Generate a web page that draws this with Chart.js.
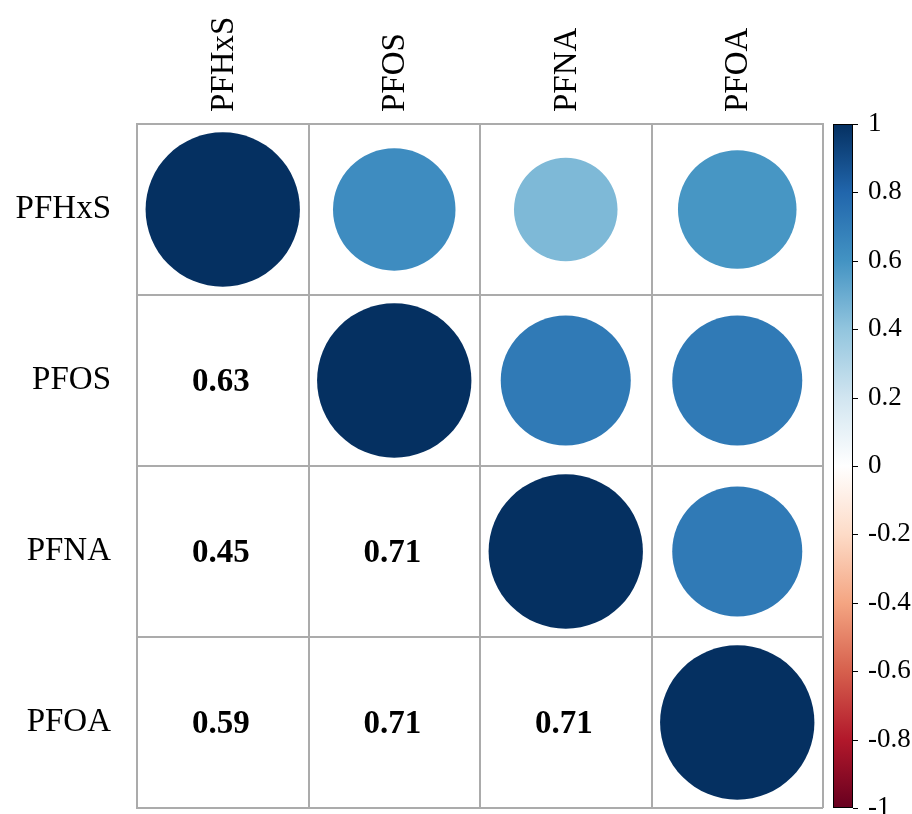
<!DOCTYPE html>
<html>
<head>
<meta charset="utf-8">
<script src="https://cdn.jsdelivr.net/npm/chart.js@4/dist/chart.umd.min.js"></script>
<style>
  html, body { margin: 0; padding: 0; background: #ffffff; }
  #wrap { width: 912px; height: 814px; }
</style>
</head>
<body>
<div id="wrap"><canvas id="c" width="912" height="814"></canvas></div>
<script>
// Compounds, in matrix order (top-to-bottom, left-to-right)
const variables = ['PFHxS', 'PFOS', 'PFNA', 'PFOA'];

// Pearson correlation coefficients, one row per compound
const rPFHxS = [1.00, 0.63, 0.45, 0.59];
const rPFOS  = [0.63, 1.00, 0.71, 0.71];
const rPFNA  = [0.45, 0.71, 1.00, 0.71];
const rPFOA  = [0.59, 0.71, 0.71, 1.00];
const corrRows = [rPFHxS, rPFOS, rPFNA, rPFOA];

// Colour-key tick values
const legendTicks = [1, 0.8, 0.6, 0.4, 0.2, 0, -0.2, -0.4, -0.6, -0.8, -1];

// Diverging red-blue palette from -1 to +1
const rdbu = ['#67001F', '#B2182B', '#D6604D', '#F4A582', '#FDDBC7', '#FFFFFF',
              '#D1E5F0', '#92C5DE', '#4393C3', '#2166AC', '#053061'];

const SERIF = "'Liberation Serif', 'Times New Roman', Times, serif";
const GRID = '#ababab';

function hexToRgb(h) {
  return [parseInt(h.slice(1, 3), 16), parseInt(h.slice(3, 5), 16), parseInt(h.slice(5, 7), 16)];
}
function corrColour(v) {
  const pos = (v + 1) / 2 * (rdbu.length - 1);
  const i = Math.min(Math.floor(pos), rdbu.length - 2);
  const t = pos - i;
  const a = hexToRgb(rdbu[i]), b = hexToRgb(rdbu[i + 1]);
  const c = a.map((ch, k) => Math.round(ch + (b[k] - ch) * t));
  return `rgb(${c[0]},${c[1]},${c[2]})`;
}

// Upper triangle (incl. diagonal): circles; lower triangle: printed coefficients
const circlePoints = [];
const numberPoints = [];
corrRows.forEach((row, i) => {
  row.forEach((v, j) => {
    const p = { x: variables[j], y: variables[i], v: v };
    if (j >= i) circlePoints.push(p); else numberPoints.push(p);
  });
});

// circle area proportional to |r|; diameter of r = 1 is 90% of a cell
function radiusFor(chart, v) {
  const xs = chart.scales.x;
  const w = xs && xs.width ? xs.width : 0;
  return 0.45 * Math.sqrt(Math.abs(v)) * (w / variables.length);
}
function circleRadius(ctx) {
  return ctx.raw ? radiusFor(ctx.chart, ctx.raw.v) : 0;
}

// drop the half-label overflow that scales normally reserve at their ends
function noEndPadding(s) {
  s.paddingTop = 0; s.paddingBottom = 0; s.paddingLeft = 0; s.paddingRight = 0;
}

const cellAndKey = {
  id: 'cellAndKey',
  afterDatasetsDraw(chart) {
    const ctx = chart.ctx;

    // circles whose size was resolved before the cells had a width
    const cm = chart.getDatasetMeta(0);
    ctx.save();
    cm.data.forEach((el, k) => {
      if (el.options && el.options.radius >= 0.1) return;
      const d = chart.data.datasets[0].data[k];
      ctx.beginPath();
      ctx.fillStyle = corrColour(d.v);
      ctx.arc(el.x, el.y, radiusFor(chart, d.v), 0, Math.PI * 2);
      ctx.fill();
    });
    ctx.restore();

    // coefficient text in lower triangle
    const meta = chart.getDatasetMeta(1);
    ctx.save();
    ctx.fillStyle = '#000';
    ctx.font = `bold 33px ${SERIF}`;
    ctx.textAlign = 'center';
    ctx.textBaseline = 'middle';
    meta.data.forEach((el, k) => {
      const d = chart.data.datasets[1].data[k];
      ctx.fillText(d.v.toFixed(2), el.x - 2, el.y + 2);
    });
    ctx.restore();

    // colour key
    const cb = chart.scales.cb;
    const yTop = cb.getPixelForValue(1);
    const yBot = cb.getPixelForValue(-1);
    const x0 = cb.left + 10;
    const w = 20;
    const grad = ctx.createLinearGradient(0, yBot, 0, yTop);
    rdbu.forEach((c, k) => grad.addColorStop(k / (rdbu.length - 1), c));
    ctx.save();
    ctx.fillStyle = grad;
    ctx.fillRect(x0, yTop, w, yBot - yTop);
    ctx.strokeStyle = '#000';
    ctx.lineWidth = 1;
    ctx.strokeRect(x0 + 0.5, yTop + 0.5, w - 1, yBot - yTop - 1);
    ctx.beginPath();
    legendTicks.forEach(v => {
      const y = Math.round(cb.getPixelForValue(v)) + 0.5;
      ctx.moveTo(x0 + w, y);
      ctx.lineTo(x0 + w + 5, y);
    });
    ctx.stroke();
    ctx.restore();
  }
};

const chart = new Chart(document.getElementById('c'), {
  type: 'bubble',
  data: {
    datasets: [
      {
        label: 'circles',
        data: circlePoints,
        backgroundColor: ctx => (ctx.raw ? corrColour(ctx.raw.v) : rdbu[10]),
        borderWidth: 0,
        radius: circleRadius
      },
      {
        label: 'numbers',
        data: numberPoints,
        backgroundColor: 'rgba(0,0,0,0)',
        borderWidth: 0,
        radius: 0
      }
    ]
  },
  options: {
    responsive: false,
    animation: false,
    events: [],
    layout: { autoPadding: false, padding: { top: 0, left: 0, right: 0, bottom: 6 } },
    plugins: { legend: { display: false }, tooltip: { enabled: false } },
    scales: {
      x: {
        type: 'category',
        labels: variables,
        position: 'top',
        offset: true,
        grid: { offset: true, color: GRID, lineWidth: 2, drawTicks: false },
        border: { display: true, color: GRID, width: 2 },
        ticks: { minRotation: 90, maxRotation: 90, padding: 12, labelOffset: 41, color: '#000',
                 font: { family: SERIF, size: 33 } },
        afterFit(s) { s.height = 124; noEndPadding(s); }
      },
      y: {
        type: 'category',
        labels: variables,
        position: 'left',
        offset: true,
        grid: { offset: true, color: GRID, lineWidth: 2, drawTicks: false },
        border: { display: true, color: GRID, width: 2 },
        ticks: { padding: 26, color: '#000', crossAlign: 'near',
                 font: { family: SERIF, size: 33 } },
        afterFit(s) { s.width = 137; noEndPadding(s); }
      },
      cb: {
        type: 'linear',
        position: 'right',
        min: -1,
        max: 1,
        grid: { display: false, drawOnChartArea: false },
        border: { display: false },
        afterBuildTicks(s) { s.ticks = legendTicks.map(v => ({ value: v })); },
        ticks: { padding: 37, color: '#000', autoSkip: false,
                 font: { family: SERIF, size: 27 },
                 callback: v => String(v) },
        afterFit(s) { s.width = 89; noEndPadding(s); }
      }
    }
  },
  plugins: [cellAndKey]
});
// circle sizes depend on the laid-out cell width, so refresh once the scales exist
chart.update();
</script>
</body>
</html>
